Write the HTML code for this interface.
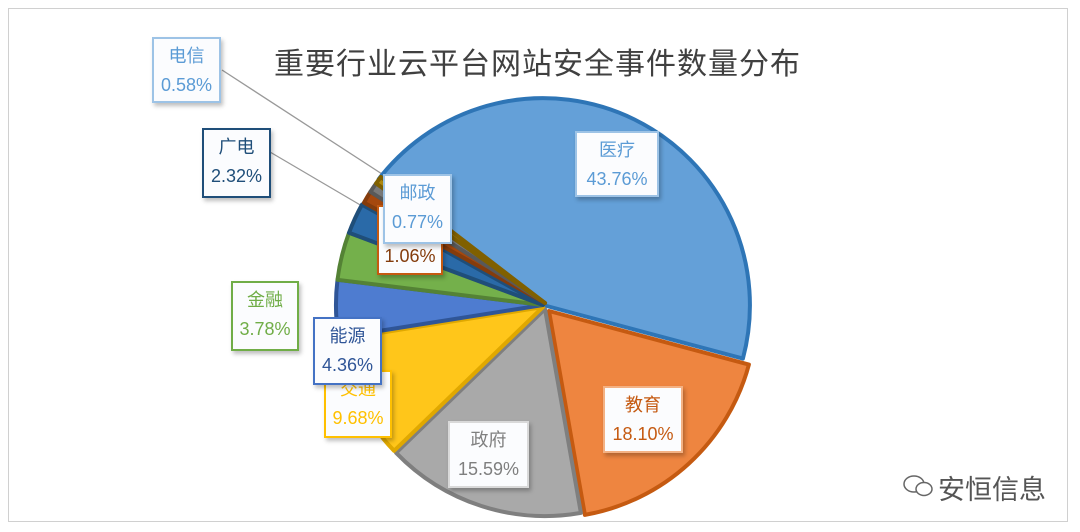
<!DOCTYPE html>
<html><head><meta charset="utf-8"><style>
body{margin:0;background:#fff;}
.wrap{position:relative;width:1080px;height:532px;overflow:hidden;background:#fff;font-family:"Liberation Sans","Noto Sans CJK SC",sans-serif;}
.frame{position:absolute;left:8px;top:8px;width:1058px;height:512px;border:1px solid #d0d0d0;}
.title{position:absolute;left:274px;top:39px;font-size:30px;color:#404040;letter-spacing:1px;white-space:nowrap;}
.lb{position:absolute;background:#fbfcfe;border:2px solid;text-align:center;font-size:18px;line-height:29px;box-shadow:2px 3px 4px rgba(0,0,0,0.25);box-sizing:border-box;padding-top:3px;}
.wm{position:absolute;left:938px;top:468px;font-size:27px;color:#555;}
</style></head><body><div class="wrap">
<div class="frame"></div>
<svg width="1080" height="532" style="position:absolute;left:0;top:0">
<line x1="222" y1="70" x2="382" y2="174" stroke="#999" stroke-width="1.3"/>
<line x1="270" y1="152" x2="362" y2="206" stroke="#999" stroke-width="1.3"/>
<g stroke-width="4" stroke-linejoin="round">
<path d="M543 305 L742.9 358.6 A207 207 0 0 0 378.8 179 Z" fill="#64a0d8" stroke="#2e75b6"/>
<path d="M549 311 L748.9 364.6 A207 207 0 0 1 584.9 514.9 Z" fill="#ee8540" stroke="#c55a11"/>
<path d="M545 309 L580.9 512.9 A207 207 0 0 1 396.1 452.8 Z" fill="#a9a9a9" stroke="#7f7f7f"/>
<path d="M543 307 L394.1 450.8 A207 207 0 0 1 338.5 339.4 Z" fill="#ffc61a" stroke="#e0a800"/>
<path d="M543 305 L338.5 337.4 A207 207 0 0 1 337.5 279.8 Z" fill="#4e7cd0" stroke="#2f5597"/>
<path d="M543 305 L337.5 279.8 A207 207 0 0 1 349 232.8 Z" fill="#74b04b" stroke="#548235"/>
<path d="M543 305 L349 232.8 A207 207 0 0 1 362 204.6 Z" fill="#2a6aa8" stroke="#1f4e79"/>
<path d="M545 303 L364 202.6 A207 207 0 0 1 370.4 191.8 Z" fill="#a5480e" stroke="#843c0c"/>
<path d="M545 303 L370.4 191.8 A207 207 0 0 1 376.1 183.4 Z" fill="#7a7a7a" stroke="#595959"/>
<path d="M545 303 L376.1 183.4 A207 207 0 0 1 380.8 177 Z" fill="#b08a10" stroke="#806000"/>
</g>
</svg>
<div class="title">重要行业云平台网站安全事件数量分布</div>
<div class="lb" style="left:152px;top:37px;width:69px;height:66px;border-color:#9dc3e6;color:#5b9bd5">电信<br>0.58%</div>
<div class="lb" style="left:202px;top:128px;width:69px;height:70px;border-color:#1f4e79;color:#1f4e79">广电<br>2.32%</div>
<div class="lb" style="left:377px;top:205px;width:66px;height:70px;border-color:#c55a11;color:#843c0c;padding-top:34px;line-height:30px">1.06%</div>
<div class="lb" style="left:383px;top:174px;width:69px;height:70px;border-color:#9dc3e6;color:#5b9bd5">邮政<br>0.77%</div>
<div class="lb" style="left:231px;top:281px;width:68px;height:70px;border-color:#70ad47;color:#70ad47">金融<br>3.78%</div>
<div class="lb" style="left:324px;top:370px;width:68px;height:68px;border-color:#ffc000;color:#ffc000">交通<br>9.68%</div>
<div class="lb" style="left:313px;top:317px;width:69px;height:68px;border-color:#4472c4;color:#2f5597">能源<br>4.36%</div>
<div class="lb" style="left:575px;top:131px;width:84px;height:66px;border-color:#9dc3e6;color:#5b9bd5">医疗<br>43.76%</div>
<div class="lb" style="left:603px;top:386px;width:80px;height:67px;border-color:#f4b183;color:#c55a11">教育<br>18.10%</div>
<div class="lb" style="left:448px;top:421px;width:81px;height:67px;border-color:#d9d9d9;color:#7f7f7f">政府<br>15.59%</div>
<svg width="34" height="28" style="position:absolute;left:902px;top:472px"><ellipse cx="12" cy="12" rx="10" ry="8" fill="none" stroke="#666" stroke-width="1.5"/><ellipse cx="22" cy="17" rx="8" ry="6.5" fill="#fff" stroke="#666" stroke-width="1.5"/></svg>
<div class="wm">安恒信息</div>
</div></body></html>
